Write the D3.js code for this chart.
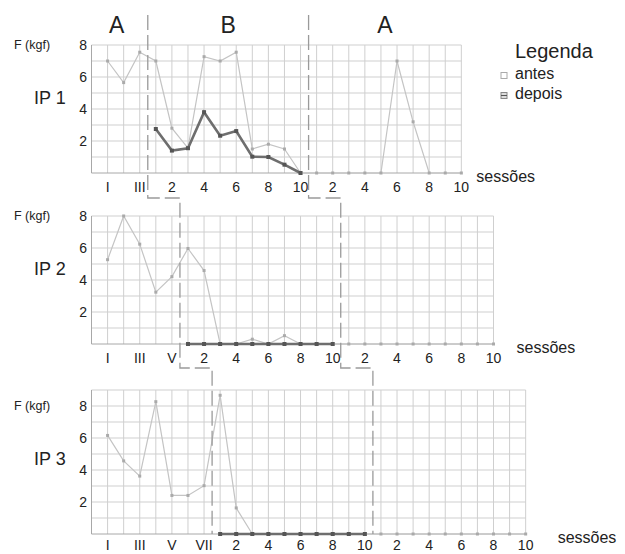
<!DOCTYPE html>
<html>
<head>
<meta charset="utf-8">
<script src="https://cdn.jsdelivr.net/npm/d3@7"></script>
<style>
  body { margin: 0; background: #fff; }
  svg { font-family: "Liberation Sans", Arial, sans-serif; }
  .grid line { stroke: #cfcfcf; stroke-width: 1; }
</style>
</head>
<body>
<svg id="chart" width="625" height="554"></svg>
<script>
// sessions per phase for each participant: A (baseline), B (treatment), A (follow-up)
var ip1Phases = [3, 10, 10];
var ip2Phases = [5, 10, 10];
var ip3Phases = [7, 10, 10];

// "antes" values run across all sessions, "depois" only in phase B
var ip1Antes  = [7.0, 5.65, 7.55,  7.0, 2.8, 1.55, 7.27, 7.0, 7.55, 1.5, 1.8, 1.5, 0,  0, 0, 0, 0, 0, 7.0, 3.2, 0, 0, 0];
var ip1Depois = [2.75, 1.4, 1.55, 3.8, 2.33, 2.62, 1.02, 1.0, 0.52, 0];

var ip2Antes  = [5.27, 8.0, 6.24, 3.24, 4.21,  5.97, 4.59, 0, 0, 0.3, 0, 0.52, 0, 0, 0,  0, 0, 0, 0, 0, 0, 0, 0, 0, 0];
var ip2Depois = [0, 0, 0, 0, 0, 0, 0, 0, 0, 0];

var ip3Antes  = [6.16, 4.57, 3.62, 8.27, 2.41, 2.41, 3.02,  8.67, 1.63, 0, 0, 0, 0, 0, 0, 0, 0,  0, 0, 0, 0, 0, 0, 0, 0, 0, 0];
var ip3Depois = [0, 0, 0, 0, 0, 0, 0, 0, 0, 0];

var romanLabels = ["I", "II", "III", "IV", "V", "VI", "VII"];
var yTicks = [2, 4, 6, 8];
var phaseNames = ["A", "B", "A"];

var panels = [
  {name: "IP 1", phases: ip1Phases, antes: ip1Antes, depois: ip1Depois, yMax: 8, y0: 173, sessX: 15, labDy: 19},
  {name: "IP 2", phases: ip2Phases, antes: ip2Antes, depois: ip2Depois, yMax: 8, y0: 344, sessX: 23, labDy: 19},
  {name: "IP 3", phases: ip3Phases, antes: ip3Antes, depois: ip3Depois, yMax: 9, y0: 534, sessX: 32, labDy: 16}
];

var svg = d3.select("#chart");
var left = 91.5, step = 16.08, unit = 16;
var txt = "#222";

panels.forEach(function(p, pi) {
  var n = d3.sum(p.phases);
  var x = d3.scaleLinear().domain([0, n]).range([left, left + n * step]);
  var y = d3.scaleLinear().domain([0, p.yMax]).range([p.y0, p.y0 - p.yMax * unit]);
  p.x = x; p.y = y; p.n = n;
  var g = svg.append("g");

  // grid
  var grid = g.append("g").attr("class", "grid");
  grid.selectAll(".v").data(d3.range(0, n + 1)).enter().append("line")
    .attr("x1", d => x(d)).attr("x2", d => x(d))
    .attr("y1", y(0)).attr("y2", y(p.yMax));
  grid.selectAll(".h").data(d3.range(1, p.yMax + 1)).enter().append("line")
    .attr("x1", x(0)).attr("x2", x(n))
    .attr("y1", d => y(d)).attr("y2", d => y(d));

  // axes lines
  g.append("line").attr("x1", x(0)).attr("x2", x(0)).attr("y1", y(0)).attr("y2", y(p.yMax))
    .attr("stroke", "#a8a8a8");
  g.append("line").attr("x1", x(0)).attr("x2", x(n)).attr("y1", y(0)).attr("y2", y(0))
    .attr("stroke", "#a8a8a8");

  // y ticks
  g.selectAll(".yt").data(yTicks).enter().append("text")
    .attr("x", 87).attr("y", d => y(d) + 5)
    .attr("text-anchor", "end").attr("font-size", 14).attr("fill", txt)
    .text(d => d);

  g.append("text").attr("x", 14).attr("y", y(8) + 4)
    .attr("font-size", 12.5).attr("fill", txt).text("F (kgf)");
  g.append("text").attr("x", 34).attr("y", y(8) + 59)
    .attr("font-size", 18).attr("fill", txt).text(p.name);

  // x tick labels
  var labels = [];
  var a = p.phases[0];
  for (var i = 1; i <= a; i += 2) labels.push({pos: i, t: romanLabels[i - 1]});
  for (var k = 2; k <= p.phases[1]; k += 2) labels.push({pos: a + k, t: k});
  for (var k2 = 2; k2 <= p.phases[2]; k2 += 2) labels.push({pos: a + p.phases[1] + k2, t: k2});
  g.selectAll(".xt").data(labels).enter().append("text")
    .attr("x", d => x(d.pos)).attr("y", y(0) + p.labDy)
    .attr("text-anchor", "middle").attr("font-size", 14).attr("fill", txt)
    .text(d => d.t);

  g.append("text").attr("x", x(n) + p.sessX).attr("y", y(0) + 9)
    .attr("font-size", 16).attr("fill", txt).text("sessões");

  // antes line
  var line = d3.line().x(d => x(d[0])).y(d => y(d[1]));
  var antesPts = p.antes.map((v, i) => [i + 1, v]);
  g.append("path").attr("d", line(antesPts)).attr("fill", "none")
    .attr("stroke", "#c4c4c4").attr("stroke-width", 1.2);
  g.selectAll(".am").data(antesPts).enter().append("rect")
    .attr("x", d => x(d[0]) - 1.5).attr("y", d => y(d[1]) - 1.5)
    .attr("width", 3).attr("height", 3).attr("fill", "#aaa");

  // depois line
  var depPts = p.depois.map((v, i) => [a + i + 1, v]);
  g.append("path").attr("d", line(depPts)).attr("fill", "none")
    .attr("stroke", "#6e6e6e").attr("stroke-width", 2.6);
  g.selectAll(".dm").data(depPts).enter().append("rect")
    .attr("x", d => x(d[0]) - 2).attr("y", d => y(d[1]) - 2)
    .attr("width", 4).attr("height", 4).attr("fill", "#555");
});

// phase change lines with steps between panels
var dash = "15,5";
function phaseX(p, k) { return p.x(d3.sum(p.phases.slice(0, k)) + 0.5); }
[1, 2].forEach(function(k) {
  var x1 = phaseX(panels[0], k), x2 = phaseX(panels[1], k), x3 = phaseX(panels[2], k);
  var top1 = 15, c1 = 198, c2 = 368;
  var path = "M" + x1 + "," + top1 + "V" + c1 + "H" + x2 + "V" + c2 + "H" + x3 + "V" + panels[2].y(0);
  svg.append("path").attr("d", path).attr("fill", "none")
    .attr("stroke", "#9a9a9a").attr("stroke-width", 1.3).attr("stroke-dasharray", dash);
});

// phase names over first panel
var p0 = panels[0];
var bounds = [0, phaseX(p0, 1), phaseX(p0, 2), p0.x(p0.n)];
phaseNames.forEach(function(t, i) {
  var cx = i === 0 ? (p0.x(0) + bounds[1]) / 2 - 3 : (bounds[i] + bounds[i + 1]) / 2;
  svg.append("text").attr("x", cx).attr("y", 33).attr("text-anchor", "middle")
    .attr("font-size", 23).attr("fill", txt).text(t);
});

// legend
var lg = svg.append("g");
lg.append("text").attr("x", 515).attr("y", 58).attr("font-size", 20).attr("fill", txt).text("Legenda");
lg.append("rect").attr("x", 501).attr("y", 72.5).attr("width", 6).attr("height", 6)
  .attr("fill", "#fff").attr("stroke", "#aaa");
lg.append("text").attr("x", 515).attr("y", 79).attr("font-size", 16).attr("fill", txt).text("antes");
lg.append("rect").attr("x", 501).attr("y", 92.5).attr("width", 6).attr("height", 6)
  .attr("fill", "#ddd").attr("stroke", "#888");
lg.append("line").attr("x1", 501).attr("x2", 507).attr("y1", 95.5).attr("y2", 95.5).attr("stroke", "#555");
lg.append("text").attr("x", 515).attr("y", 99).attr("font-size", 16).attr("fill", txt).text("depois");
</script>
</body>
</html>
